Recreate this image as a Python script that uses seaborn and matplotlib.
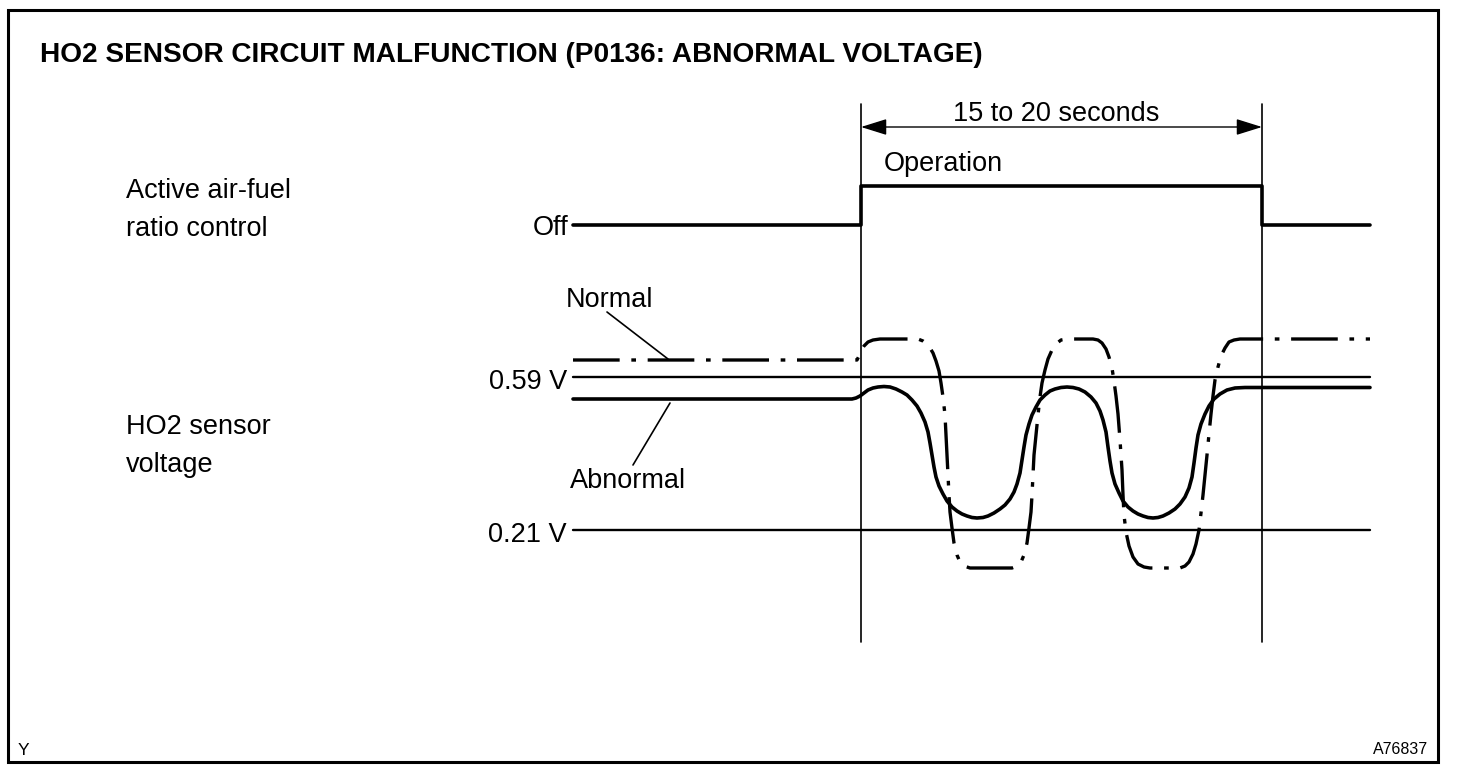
import matplotlib
matplotlib.use('Agg')
import matplotlib.pyplot as plt
import seaborn as sns
import pandas as pd
from matplotlib.patches import Rectangle

sns.set_style('white')
plt.rcParams['font.family'] = ['Liberation Sans', 'DejaVu Sans']
plt.rcParams['text.color'] = 'black'

# diagram coordinates (x to the right, y downwards, same scale as the sheet)
# Active air-fuel ratio control: Off -> Operation -> Off
afr_x = [573, 861, 861, 1262, 1262, 1370]
afr_y = [225, 225, 186, 186, 225, 225]

# HO2 sensor voltage, normal sensor (dash-dot)
normal_x = [573, 857, 859, 861, 864, 868, 873, 880, 918, 923, 927, 930, 933, 936,
            939, 941, 943, 945, 946, 947, 948, 949, 950, 952, 954, 957, 960, 964,
            970, 1012, 1017, 1021, 1024, 1027, 1029, 1031, 1032, 1033, 1034, 1036,
            1038, 1040, 1042, 1045, 1048, 1052, 1056, 1061, 1067, 1093, 1098, 1102,
            1106, 1109, 1112, 1114, 1116, 1118, 1120, 1122, 1123, 1124, 1126, 1129,
            1133, 1138, 1144, 1150, 1180, 1185, 1189, 1193, 1196, 1199, 1201, 1203,
            1205, 1207, 1209, 1211, 1213, 1215, 1218, 1221, 1225, 1229, 1234, 1240,
            1370]
normal_y = [360, 360, 356, 351, 346, 342, 340, 339, 339, 341, 344, 348, 353, 361,
            371, 383, 397, 415, 435, 455, 475, 495, 512, 528, 543, 555, 562, 566,
            568, 568, 566, 562, 555, 543, 528, 512, 495, 475, 455, 435,
            415, 397, 383, 370, 359, 350, 344, 340, 339, 339, 340, 343,
            349, 357, 368, 381, 396, 414, 440, 470, 495, 515, 532, 546,
            557, 564, 567, 568, 568, 566, 562, 554, 544, 530, 513, 495,
            475, 455, 434, 414, 396, 380, 367, 356, 348, 342, 340, 339,
            339]

# HO2 sensor voltage, abnormal sensor (solid)
abnormal_x = [573, 852, 856, 860, 864, 868, 873, 878, 884, 890, 896, 902, 907,
              912, 917, 921, 925, 928, 930, 932, 934, 936, 939, 943, 947, 952,
              957, 962, 967, 972, 977, 983, 988, 994, 1000, 1005, 1010, 1014,
              1017, 1020, 1022, 1024, 1026, 1029, 1032, 1036, 1040, 1045, 1050,
              1055, 1061, 1067, 1073, 1079, 1085, 1091, 1096, 1100, 1103, 1106,
              1108, 1110, 1112, 1115, 1119, 1123, 1128, 1133, 1138, 1143, 1148,
              1153, 1158, 1163, 1169, 1175, 1180, 1185, 1189, 1192, 1194, 1196,
              1198, 1201, 1205, 1209, 1214, 1220, 1227, 1235, 1245, 1370]
abnormal_y = [399, 399, 398, 396, 393, 390, 388, 387, 386.5, 387, 389, 392, 395,
              400, 406, 413, 422, 432, 443, 455, 467, 477, 486, 494, 501, 507,
              511, 514, 516, 517.5, 518, 517.5, 516, 513, 509, 505, 499, 492,
              484, 473, 460, 447, 435, 424, 415, 407, 400, 395, 391,
              389, 387.5, 387, 387.5, 389, 392, 397, 403, 411, 420, 432,
              447, 461, 473, 484, 493, 501, 507, 511, 514, 516, 517.5,
              518, 517.5, 516, 513, 509, 504, 497, 488, 477, 463, 448,
              435, 424, 414, 406, 399, 394, 390, 388, 387.5, 387.5]

# threshold voltages
ref_levels = [377, 530]
ref_labels = ['0.59 V', '0.21 V']

# operation window
window_x = [861, 1262]

fig = plt.figure(figsize=(14.72, 7.8), dpi=100)
ax = fig.add_axes([0, 0, 1, 1])
ax.set_xlim(0, 1472)
ax.set_ylim(780, 0)
ax.axis('off')

# frame round the sheet
ax.add_patch(Rectangle((8, 10), 1430, 752, fill=False, lw=2.2, ec='black'))

ax.text(40, 62, 'HO2 SENSOR CIRCUIT MALFUNCTION (P0136: ABNORMAL VOLTAGE)',
        fontsize=20.2, fontweight='bold', va='baseline')

# vertical marks of the operation window
for x in window_x:
    ax.plot([x, x], [104, 642], color='black', lw=1.2)

ax.annotate('', xy=(window_x[0], 127), xytext=(window_x[1], 127),
            arrowprops=dict(arrowstyle='<|-|>,head_length=0.8,head_width=0.25',
                            mutation_scale=20, lw=1.0, color='black',
                            shrinkA=0, shrinkB=0))
ax.text(sum(window_x) / 2 - 5, 121, '15 to 20 seconds', fontsize=19.5,
        ha='center', va='baseline')
ax.text(884, 171, 'Operation', fontsize=19.5, va='baseline')

# step signal
afr = pd.DataFrame({'x': afr_x, 'y': afr_y})
sns.lineplot(data=afr, x='x', y='y', sort=False, estimator=None, ax=ax,
             color='black', lw=2.6)
ax.text(126, 198, 'Active air-fuel', fontsize=19.5, va='baseline')
ax.text(126, 236, 'ratio control', fontsize=19.5, va='baseline')
ax.text(568, 235, 'Off', fontsize=19.5, ha='right', va='baseline')

# threshold lines
for lvl, lab in zip(ref_levels, ref_labels):
    ax.plot([573, 1370], [lvl, lvl], color='black', lw=1.7)
    ax.text(567, lvl + 12, lab, fontsize=19.5, ha='right', va='baseline')

# sensor curves
normal = pd.DataFrame({'x': normal_x, 'y': normal_y})
sns.lineplot(data=normal, x='x', y='y', sort=False, estimator=None, ax=ax,
             color='black', lw=2.4, linestyle=(0, (14, 3.5, 1.4, 3.5)))
abnormal = pd.DataFrame({'x': abnormal_x, 'y': abnormal_y})
sns.lineplot(data=abnormal, x='x', y='y', sort=False, estimator=None, ax=ax,
             color='black', lw=2.6)

ax.set_xlim(0, 1472)
ax.set_ylim(780, 0)
ax.set_xlabel('')
ax.set_ylabel('')

# callouts
ax.plot([607, 668], [312, 359], color='black', lw=1.2)
ax.plot([670, 633], [403, 465], color='black', lw=1.2)
ax.text(566, 307, 'Normal', fontsize=19.5, va='baseline')
ax.text(570, 488, 'Abnormal', fontsize=19.5, va='baseline')

ax.text(126, 434, 'HO2 sensor', fontsize=19.5, va='baseline')
ax.text(126, 472, 'voltage', fontsize=19.5, va='baseline')

ax.text(18, 755, 'Y', fontsize=12.5, va='baseline')
ax.text(1428, 754, 'A76837', fontsize=11.5, ha='right', va='baseline')

fig.savefig('out.png', dpi=100)
